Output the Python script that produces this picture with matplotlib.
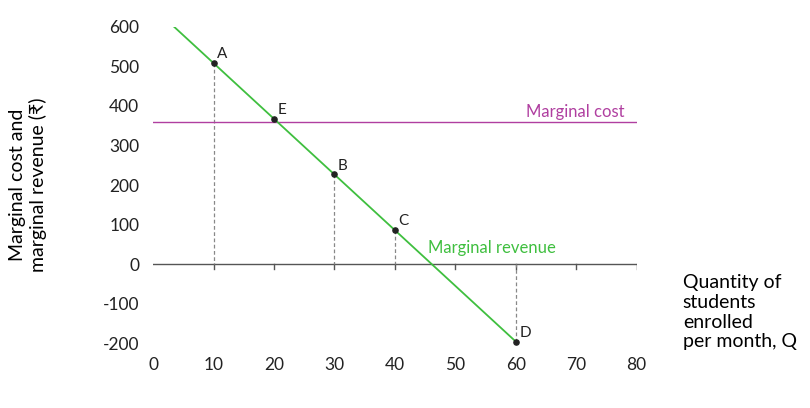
import matplotlib
matplotlib.use("Agg")
import matplotlib.pyplot as plt

plt.rcParams['font.family'] = ['Lato', 'DejaVu Sans']

point_labels = ['A', 'E', 'B', 'C', 'D']
point_q = [10, 20, 30, 40, 60]
point_mr = [510, 368, 227, 86, -196]
dashed_q = [10, 30, 40, 60]
dashed_mr = [510, 227, 86, -196]
mr_line_q = [3.5, 60]
mr_line_v = [600, -196]
mc_value = 360
x_ticks = [0, 10, 20, 30, 40, 50, 60, 70, 80]
y_ticks = [-200, -100, 0, 100, 200, 300, 400, 500, 600]

fig = plt.figure(figsize=(8.1, 4.08), dpi=100)
ax = fig.add_axes([0.189, 0.159, 0.597, 0.775])
ax.set_xlim(0, 80)
ax.set_ylim(-200, 600)
for s in ax.spines.values():
    s.set_visible(False)

ax.axhline(0, color='#555555', lw=1)
for q in x_ticks[1:]:
    ax.plot([q, q], [0, -12], color='#555555', lw=1)
for q, v in zip(dashed_q, dashed_mr):
    ax.plot([q, q], [v, 0], color='#888888', lw=0.9, ls=(0, (3, 2)))
ax.axhline(mc_value, color='#b03fa0', lw=1)
ax.plot(mr_line_q, mr_line_v, color='#3fbf3f', lw=1.3)
ax.scatter(point_q, point_mr, color='#222222', s=14, zorder=5, clip_on=False)
for lab, q, v in zip(point_labels, point_q, point_mr):
    ax.text(q + 0.6, v + 12, lab, fontsize=11, color='#222222')

ax.text(78, 385, 'Marginal cost', color='#b03fa0', fontsize=12, ha='right', va='center')
ax.text(56, 40, 'Marginal revenue', color='#3fbf3f', fontsize=12, ha='center', va='center')

ax.set_xticks(x_ticks)
ax.set_yticks(y_ticks)
ax.set_xticklabels([str(t) for t in x_ticks])
ax.set_yticklabels([str(t) for t in y_ticks])
ax.tick_params(length=0, labelsize=12.5, colors='#222222', pad=10)
ax.set_ylabel('Marginal cost and\nmarginal revenue (₹)', fontsize=14, labelpad=40)
fig.text(0.843, 0.235, 'Quantity of\nstudents\nenrolled\nper month, Q', fontsize=14,
         ha='left', va='center', linespacing=1.2)

fig.savefig('out.png', dpi=100)
